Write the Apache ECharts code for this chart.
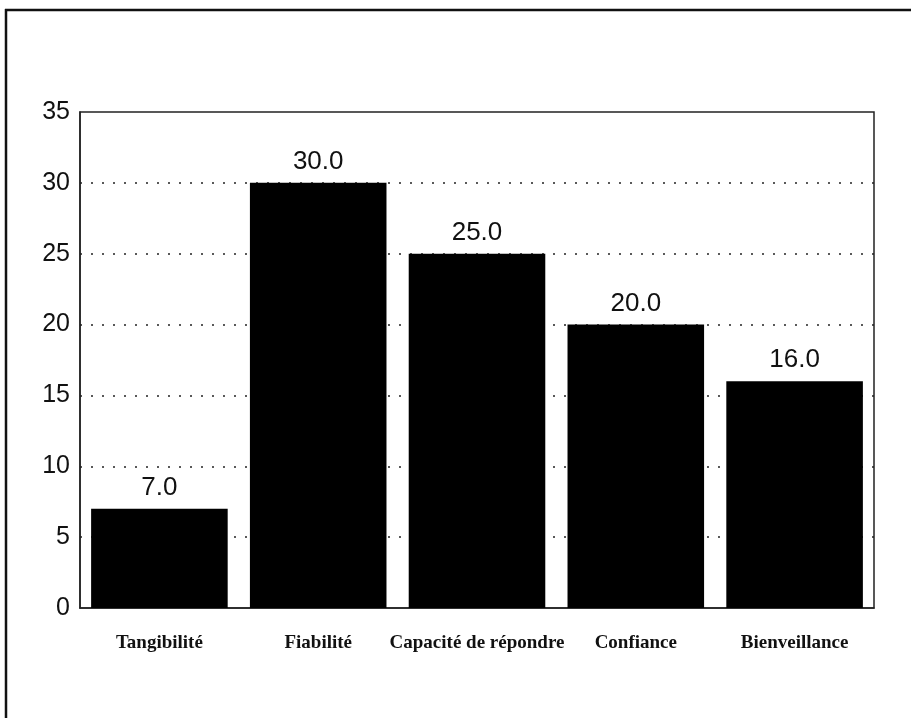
<!DOCTYPE html>
<html>
<head>
<meta charset="utf-8">
<script src="https://cdn.jsdelivr.net/npm/echarts@6/dist/echarts.min.js"></script>
<style>
html,body{margin:0;padding:0;background:#fff;}
#chart{width:911px;height:718px;}
</style>
</head>
<body>
<div id="chart"></div>
<script>
const categories = ["Tangibilité", "Fiabilité", "Capacité de répondre", "Confiance", "Bienveillance"];
const values = [7.0, 30.0, 25.0, 20.0, 16.0];
const yTicks = [0, 5, 10, 15, 20, 25, 30, 35];

const chart = echarts.init(document.getElementById('chart'));
chart.setOption({
  backgroundColor: '#ffffff',
  animation: false,
  graphic: [
    { type: 'line', shape: { x1: 5, y1: 10, x2: 911, y2: 10 }, style: { stroke: '#111', lineWidth: 2.5 } },
    { type: 'line', shape: { x1: 6, y1: 9, x2: 6, y2: 718 }, style: { stroke: '#111', lineWidth: 2.5 } }
  ],
  grid: {
    left: 80, right: 37, top: 112, bottom: 110,
    show: true, borderColor: '#222', borderWidth: 1.5, backgroundColor: 'transparent'
  },
  xAxis: {
    type: 'category',
    data: categories,
    axisLine: { show: true, lineStyle: { color: '#222', width: 1.5 } },
    axisTick: { show: false },
    axisLabel: {
      margin: 26,
      color: '#111',
      fontFamily: 'Liberation Serif',
      fontWeight: 'bold',
      fontSize: 19,
      interval: 0
    },
    splitLine: { show: false }
  },
  yAxis: {
    type: 'value',
    min: yTicks[0],
    max: yTicks[yTicks.length - 1],
    interval: 5,
    axisLine: { show: true, lineStyle: { color: '#222', width: 1.5 } },
    axisTick: { show: false },
    axisLabel: {
      margin: 10,
      color: '#111',
      fontFamily: 'Liberation Sans',
      fontSize: 25
    },
    splitLine: {
      show: true,
      showMinLine: false,
      showMaxLine: false,
      lineStyle: { color: '#222', width: 1.6, type: [2, 9] }
    }
  },
  series: [{
    type: 'bar',
    data: values,
    barCategoryGap: '14%',
    itemStyle: { color: '#000' },
    label: {
      show: true,
      position: 'top',
      distance: 8,
      color: '#111',
      fontFamily: 'Liberation Sans',
      fontSize: 26,
      formatter: p => p.value.toFixed(1)
    }
  }]
});
</script>
</body>
</html>
